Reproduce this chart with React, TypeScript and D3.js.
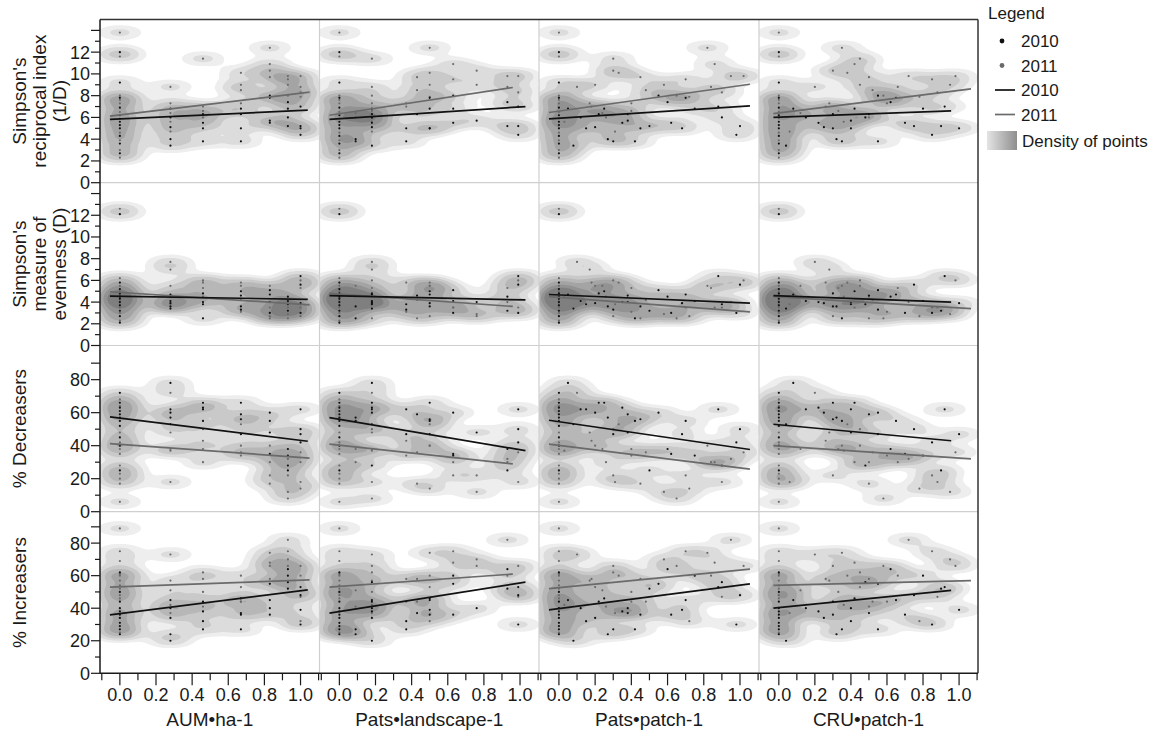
import React, { useMemo } from 'react';
import * as d3 from 'd3';

// ---- site data (same site order in every array of a year) ----
// predictors
const aum2010 = [0,0,0,0,0,0,0,0,0,0,0, 0.28,0.28,0.28,0.28,0.28, 0.46,0.46,0.46,0.46, 0.67,0.67,0.67,0.67, 0.83,0.83,0.83,0.83, 0.93,0.93,0.93,0.93, 1.0,1.0,1.0,1.0];
const patsL2010 = [0,0,0,0,0,0,0,0,0,0,0, 0.18,0.18,0.18,0.09,0.18, 0.18,0.18,0.37,0.09, 0.5,0.43,0.5,0.37, 0.63,0.5,0.76,0.63, 0.93,0.63,0.18,0.93, 0.99,0.99,0.5,0.99];
const patsP2010 = [0,0,0,0,0,0,0,0,0,0,0, 0.05,0.12,0.2,0.27,0.08, 0.22,0.35,0.15,0.42, 0.25,0.38,0.45,0.3, 0.55,0.7,0.38,0.62, 0.6,0.75,0.9,0.5, 0.88,1.0,0.68,0.98];
const cru2010 = [0,0,0,0,0,0,0,0,0,0,0, 0.08,0.15,0.25,0.32,0.04, 0.3,0.22,0.4,0.35, 0.42,0.5,0.3,0.55, 0.55,0.65,0.4,0.7, 0.62,0.8,0.48,0.9, 0.92,0.75,1.0,0.85];
// responses
const recip2010 = [12.0,9.2,7.8,6.9,6.2,5.6,5.0,4.3,3.6,2.7,5.3, 6.8,6.0,5.1,4.0,3.4, 6.3,5.5,5.0,3.8, 6.8,6.3,5.0,3.8, 8.0,7.8,5.7,5.5, 7.4,6.8,6.0,5.2, 7.0,5.2,5.0,4.4];
const even2010 = [12.1,5.8,5.2,4.8,4.5,4.3,4.0,3.7,3.2,2.7,2.1, 4.7,4.1,3.9,3.6,3.4, 4.8,4.0,3.8,2.5, 5.0,4.6,3.6,3.3, 5.1,4.7,4.0,3.0, 4.5,4.1,3.8,3.2, 6.4,5.6,3.9,3.0];
const decr2010 = [72,66,63,61,59,57,55,52,45,40,25, 78,62,60,57,53, 66,63,62,55, 66,59,56,47, 60,55,48,35, 38,34,28,25, 62,50,47,42];
const incr2010 = [62,50,44,40,38,36,34,31,29,27,24, 45,40,34,24,20, 44,38,32,27, 46,37,36,27, 55,45,40,36, 64,60,56,52, 53,48,39,30];

const aum2011 = aum2010;
const patsL2011 = [0,0,0,0,0,0,0,0,0,0,0, 0.18,0.18,0.09,0.18,0.18, 0.18,0.37,0.18,0.09, 0.5,0.5,0.43,0.37, 0.5,0.63,0.76,0.43, 0.93,0.63,0.76,0.18, 0.99,0.93,0.99,0.5];
const patsP2011 = [0,0,0,0,0,0,0,0,0,0,0, 0.1,0.17,0.24,0.03,0.31, 0.3,0.18,0.4,0.26, 0.33,0.2,0.48,0.4, 0.82,0.86,0.3,0.45, 0.95,0.7,0.58,0.65, 1.02,0.84,0.9,0.72];
const cru2011 = [0,0,0,0,0,0,0,0,0,0,0, 0.2,0.28,0.12,0.36,0.06, 0.45,0.26,0.33,0.5, 0.38,0.45,0.52,0.6, 0.35,0.42,0.3,0.5, 0.72,0.85,0.95,0.58, 0.98,0.66,0.88,0.78];
const recip2011 = [13.8,11.6,8.0,7.3,6.5,5.9,4.6,3.9,3.0,2.3,7.6, 8.8,7.3,6.4,5.6,4.7, 11.4,7.0,6.6,6.0, 10.1,9.0,8.5,7.3, 12.4,10.9,10.3,9.7, 9.8,9.5,9.0,8.0, 9.8,8.8,8.3,7.9];
const even2011 = [12.6,6.2,5.5,5.0,4.7,4.4,4.1,3.8,3.5,3.0,2.3, 7.7,7.0,5.5,4.5,3.8, 6.0,5.8,5.3,4.5, 5.8,5.5,4.2,3.1, 5.5,3.5,2.7,2.5, 4.0,3.5,2.9,2.5, 6.0,5.3,3.5,2.7];
const decr2011 = [68,64,48,42,38,35,28,23,20,17,6, 72,48,38,37,18, 50,43,38,30, 53,40,36,34, 40,30,22,17, 32,22,12,8, 36,30,18,14];
const incr2011 = [89,75,69,61,60,57,54,52,48,46,25, 73,57,51,42,37, 62,58,50,41, 60,53,44,44, 74,68,66,58, 82,75,70,66, 66,60,47,32];

// fitted lines: [x0, y0, x1, y1], rows x columns
const fit2010 = [
  [[-0.055,5.82,1.04,6.67],[-0.055,5.82,1.03,7.0],[-0.055,5.87,1.055,7.06],[-0.03,6.0,0.956,6.6]],
  [[-0.055,4.55,1.04,4.25],[-0.055,4.6,1.03,4.2],[-0.055,4.7,1.055,3.9],[-0.03,4.6,0.956,4.0]],
  [[-0.055,57.4,1.04,42.7],[-0.055,57,1.03,37],[-0.055,55.4,1.055,37.7],[-0.03,53,0.956,43]],
  [[-0.055,35.9,1.04,51.3],[-0.055,37,1.03,56],[-0.055,39,1.055,55],[-0.03,40,0.956,51]],
];
const fit2011 = [
  [[-0.055,6.12,1.05,8.32],[-0.055,6.2,0.96,8.75],[-0.055,6.45,1.055,9.05],[-0.03,6.35,1.066,8.62]],
  [[-0.055,4.95,1.05,3.75],[-0.055,4.8,0.96,3.6],[-0.055,4.5,1.055,3.1],[-0.03,4.5,1.066,3.4]],
  [[-0.055,41.2,1.05,32.5],[-0.055,41,0.96,29],[-0.055,40.9,1.055,25.8],[-0.03,40,1.066,32]],
  [[-0.055,52.9,1.05,57.4],[-0.055,53,0.96,61],[-0.055,52,1.055,64],[-0.03,54,1.066,57]],
];

const xTitles = ['AUM•ha-1', 'Pats•landscape-1', 'Pats•patch-1', 'CRU•patch-1'];
const yTitles = [["Simpson's", 'reciprocal index', '(1/D)'], ["Simpson's", 'measure of', 'evenness (D)'], ['% Decreasers'], ['% Increasers']];
const yMax = [15, 15, 100.7, 99.3];
const yTickStep = [1, 1, 10, 10];
const yLabelStep = [2, 2, 20, 20];
const yTickTop = [14, 14, 90, 90];
const yLabelTop = [12, 12, 80, 80];
const xMajor = [0, 0.2, 0.4, 0.6, 0.8, 1.0];
const xMinor = [-0.1, 0.1, 0.3, 0.5, 0.7, 0.9, 1.1];
const legendItems = ['2010', '2011'];

const X10 = [aum2010, patsL2010, patsP2010, cru2010];
const X11 = [aum2011, patsL2011, patsP2011, cru2011];
const Y10 = [recip2010, even2010, decr2010, incr2010];
const Y11 = [recip2011, even2011, decr2011, incr2011];

const W = 1161, H = 730;
const colEdges = [100, 319.5, 539, 759, 978];
const rowEdges = [19.5, 182.7, 345.5, 511.7, 673.3];
const font = '"Liberation Sans", Arial, Helvetica, sans-serif';
const ink = '#1a1a1a';
const c2010 = '#111';
const c2011 = '#6a6a6a';

const kx = 0.35; // squeeze x so density blobs come out wide
const densLevels = [0.0022, 0.005, 0.0088, 0.0135, 0.019, 0.026, 0.034];
const densFill = d3.scaleLinear<string>().domain([0, densLevels.length - 1]).range(['#eeeeee', '#7f7f7f']);

function Panel({ r, c }: { r: number; c: number }) {
  const x0 = colEdges[c], y0 = rowEdges[r];
  const pw = colEdges[c + 1] - x0, ph = rowEdges[r + 1] - y0;
  const x = d3.scaleLinear().domain([-0.11, 1.105]).range([0, pw]);
  const y = d3.scaleLinear().domain([0, yMax[r]]).range([ph, 0]);

  const p10 = X10[c].map((v, i) => [x(v), y(Y10[r][i])] as [number, number]);
  const p11 = X11[c].map((v, i) => [x(v), y(Y11[r][i])] as [number, number]);

  const contours = useMemo(() => {
    return d3.contourDensity<[number, number]>()
      .x(d => d[0] * kx)
      .y(d => d[1])
      .size([pw * kx, ph])
      .cellSize(1)
      .bandwidth(4.8)
      .thresholds(densLevels)([...p10, ...p11]);
  }, [r, c]);
  const gp = d3.geoPath();
  const line = d3.line<[number, number]>().x(d => x(d[0])).y(d => y(d[1]));
  const f10 = fit2010[r][c], f11 = fit2011[r][c];
  const id = `clip-${r}-${c}`;

  return (
    <g transform={`translate(${x0},${y0})`}>
      <clipPath id={id}><rect width={pw} height={ph} /></clipPath>
      <g clipPath={`url(#${id})`}>
        <g transform={`scale(${1 / kx},1)`}>
          {contours.map((ct, i) => (
            <path key={i} d={gp(ct) || ''} fill={densFill(i)} stroke="none" />
          ))}
        </g>
        {p11.map((p, i) => <circle key={'b' + i} cx={p[0]} cy={p[1]} r={1.1} fill={c2011} />)}
        {p10.map((p, i) => <circle key={'a' + i} cx={p[0]} cy={p[1]} r={1.1} fill={c2010} />)}
        <path d={line([[f11[0], f11[1]], [f11[2], f11[3]]]) || ''} stroke={c2011} strokeWidth={1.7} fill="none" />
        <path d={line([[f10[0], f10[1]], [f10[2], f10[3]]]) || ''} stroke={c2010} strokeWidth={1.7} fill="none" />
      </g>
    </g>
  );
}

function YAxis({ r }: { r: number }) {
  const y0 = rowEdges[r], ph = rowEdges[r + 1] - y0;
  const y = d3.scaleLinear().domain([0, yMax[r]]).range([ph, 0]);
  const ticks = d3.range(0, yTickTop[r] + 0.001, yTickStep[r]);
  const lines = yTitles[r];
  const cy = y0 + ph / 2;
  return (
    <g>
      <g transform={`translate(${colEdges[0]},${y0})`}>
        {ticks.map(t => {
          const major = Math.round(t / yTickStep[r]) % 2 === 0 || t === yTickTop[r];
          return <line key={t} x1={major ? -9 : -5} x2={0} y1={y(t)} y2={y(t)} stroke={ink} strokeWidth={1.2} />;
        })}
        {ticks.filter(t => t <= yLabelTop[r] && Math.abs(t % yLabelStep[r]) < 1e-6).map(t => (
          <text key={'l' + t} x={-10} y={y(t)} dy="0.36em" textAnchor="end" fontSize={18} fontFamily={font} fill={ink}>{t}</text>
        ))}
      </g>
      {lines.map((s, i) => (
        <text key={i} transform={`translate(${19 + i * 20},${cy}) rotate(-90)`} textAnchor="middle" dy="0.36em"
          fontSize={19} fontFamily={font} fill={ink}>{s}</text>
      ))}
    </g>
  );
}

function XAxis({ c }: { c: number }) {
  const x0 = colEdges[c], pw = colEdges[c + 1] - x0;
  const x = d3.scaleLinear().domain([-0.11, 1.105]).range([0, pw]);
  const yb = rowEdges[4];
  return (
    <g transform={`translate(${x0},${yb})`}>
      {xMinor.filter(t => x(t) >= 0 && x(t) <= pw).map(t => (
        <line key={'m' + t} x1={x(t)} x2={x(t)} y1={0} y2={7} stroke={ink} strokeWidth={1.2} />
      ))}
      {xMajor.map(t => (
        <g key={t}>
          <line x1={x(t)} x2={x(t)} y1={0} y2={12} stroke={ink} strokeWidth={1.2} />
          <text x={x(t)} y={27.5} textAnchor="middle" fontSize={18} fontFamily={font} fill={ink}>{t.toFixed(1)}</text>
        </g>
      ))}
      <text x={pw / 2} y={53} textAnchor="middle" fontSize={19} fontFamily={font} fill={ink}>{xTitles[c]}</text>
    </g>
  );
}

export default function App() {
  const left = colEdges[0], right = colEdges[4], top = rowEdges[0], bottom = rowEdges[4];
  return (
    <svg width={W} height={H} style={{ position: 'absolute', left: 0, top: 0, background: '#fff' }}>
      <defs>
        <linearGradient id="densGrad" x1="0" x2="1" y1="0" y2="0">
          <stop offset="0" stopColor="#e4e4e4" />
          <stop offset="1" stopColor="#8e8e8e" />
        </linearGradient>
      </defs>
      {[0, 1, 2, 3].map(r => [0, 1, 2, 3].map(c => <Panel key={`${r}-${c}`} r={r} c={c} />))}
      {/* inner dividers */}
      {colEdges.slice(1, 4).map(v => <line key={'v' + v} x1={v} x2={v} y1={top} y2={bottom} stroke="#cfcfcf" strokeWidth={1.2} />)}
      {rowEdges.slice(1, 4).map(v => <line key={'h' + v} x1={left} x2={right} y1={v} y2={v} stroke="#cfcfcf" strokeWidth={1.2} />)}
      {/* frame */}
      <line x1={left} x2={right} y1={top} y2={top} stroke="#333" strokeWidth={1.5} />
      <line x1={right} x2={right} y1={top} y2={bottom} stroke="#333" strokeWidth={1.5} />
      <line x1={left} x2={left} y1={top} y2={bottom} stroke={ink} strokeWidth={1.5} />
      <line x1={left} x2={right} y1={bottom} y2={bottom} stroke={ink} strokeWidth={1.5} />
      {[0, 1, 2, 3].map(r => <YAxis key={'y' + r} r={r} />)}
      {[0, 1, 2, 3].map(c => <XAxis key={'x' + c} c={c} />)}
      {/* legend */}
      <g fontFamily={font} fill={ink} fontSize={17}>
        <text x={988} y={13} dy="0.36em">Legend</text>
        {legendItems.map((s, i) => (
          <g key={'p' + s} transform={`translate(0,${41 + i * 24.5})`}>
            <circle cx={1002} cy={0} r={2.4} fill={i === 0 ? c2010 : c2011} />
            <text x={1021} y={0} dy="0.36em">{s}</text>
          </g>
        ))}
        {legendItems.map((s, i) => (
          <g key={'l' + s} transform={`translate(0,${90 + i * 24.5})`}>
            <line x1={995} x2={1015} y1={0} y2={0} stroke={i === 0 ? c2010 : c2011} strokeWidth={1.7} />
            <text x={1021} y={0} dy="0.36em">{s}</text>
          </g>
        ))}
        <rect x={987} y={131} width={30} height={19} fill="url(#densGrad)" />
        <text x={1022} y={140.5} dy="0.36em">Density of points</text>
      </g>
    </svg>
  );
}
